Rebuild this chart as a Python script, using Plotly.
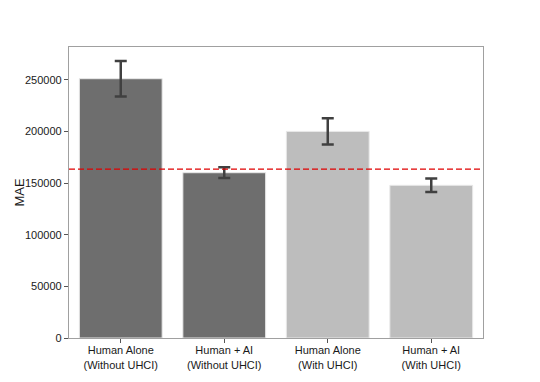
import plotly.graph_objects as go

# data
groups = ['Human Alone<br>(Without UHCI)', 'Human + AI<br>(Without UHCI)',
          'Human Alone<br>(With UHCI)', 'Human + AI<br>(With UHCI)']
mae = [251000, 160000, 200000, 147800]
mae_err = [17200, 5200, 12700, 6500]
baseline = 163500
bar_colors = ['#6e6e6e', '#6e6e6e', '#bdbdbd', '#bdbdbd']

x_pos = list(range(len(groups)))

fig = go.Figure()
fig.add_trace(go.Bar(
    x=x_pos,
    y=mae,
    width=0.8,
    marker=dict(color=bar_colors, line=dict(color='#e8e8e8', width=1)),
    error_y=dict(type='data', array=mae_err, visible=True,
                 color='#404040', thickness=2.5, width=6),
    showlegend=False,
))

# dashed reference line
fig.add_shape(type='line', xref='paper', x0=0, x1=1, yref='y',
              y0=baseline, y1=baseline,
              line=dict(color='#e00000', width=1.3, dash='6px,3px'))

# y-axis title as an annotation (axis automargin is off)
fig.add_annotation(text='MAE', xref='paper', yref='paper', x=0, y=0.5,
                   xshift=-50, textangle=-90, showarrow=False,
                   xanchor='center', yanchor='middle',
                   font=dict(size=13, color='#1a1a1a'))

tick_font = dict(family='Liberation Sans, Arial, sans-serif', size=11, color='#1a1a1a')

# page body adds an 8px offset, so the figure is 8px smaller on each side
fig.update_layout(
    template='none',
    width=532,
    height=374,
    margin=dict(l=61, r=57, t=39, b=44),
    plot_bgcolor='white',
    paper_bgcolor='white',
    font=dict(family='Liberation Sans, Arial, sans-serif', size=11, color='#1a1a1a'),
    xaxis=dict(
        range=[-0.5, 3.5],
        tickmode='array', tickvals=x_pos, ticktext=groups, tickfont=tick_font,
        showline=True, linecolor='#a0a0a0', linewidth=1.3, mirror=True,
        ticks='outside', ticklen=4, tickcolor='#555555', tickwidth=1,
        ticklabelstandoff=-2,
        showgrid=False, zeroline=False, automargin=False,
    ),
    yaxis=dict(
        range=[0, 281700],
        tickmode='array',
        tickvals=[0, 50000, 100000, 150000, 200000, 250000],
        ticktext=['0', '50000', '100000', '150000', '200000', '250000'],
        tickfont=tick_font,
        showline=True, linecolor='#a0a0a0', linewidth=1.3, mirror=True,
        ticks='outside', ticklen=4, tickcolor='#555555', tickwidth=1,
        showgrid=False, zeroline=False, automargin=False,
    ),
    bargap=0.2,
)

fig.write_html("out.html")
